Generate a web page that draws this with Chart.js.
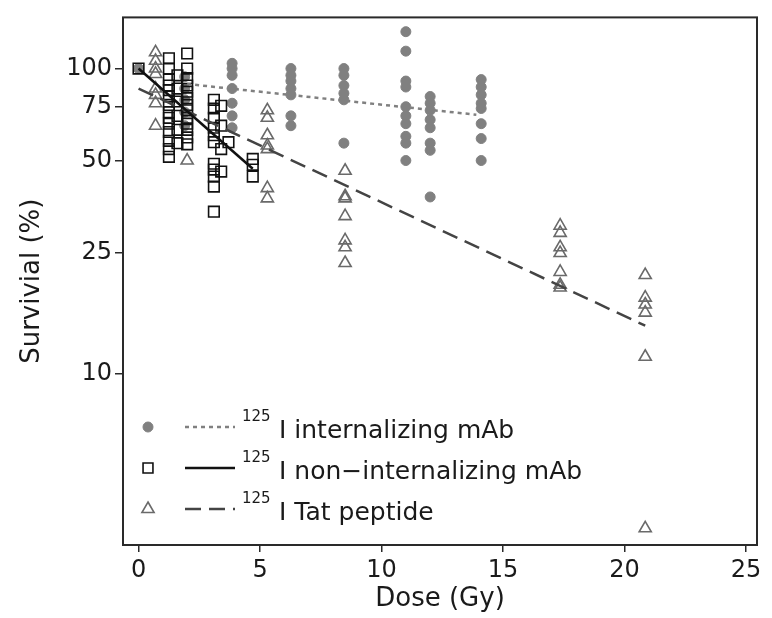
<!DOCTYPE html>
<html>
<head>
<meta charset="utf-8">
<script src="https://cdn.jsdelivr.net/npm/chart.js@4.4.1/dist/chart.umd.min.js"></script>
<style>
  html, body { margin: 0; padding: 0; background: #fff; }
</style>
</head>
<body>
<canvas id="chart" width="772" height="618"></canvas>
<script>
// 125I internalizing mAb (grey dots)
const intDose = [0,
  1.9, 1.9, 1.9, 1.9, 1.9,
  3.85, 3.85, 3.85, 3.85, 3.85, 3.85, 3.85,
  6.27, 6.27, 6.27, 6.27, 6.27, 6.27, 6.27,
  8.45, 8.45, 8.45, 8.45, 8.45, 8.45,
  11, 11, 11, 11, 11, 11, 11, 11, 11, 11,
  12, 12, 12, 12, 12, 12, 12, 12,
  14.1, 14.1, 14.1, 14.1, 14.1, 14.1, 14.1, 14.1];
const intSurv = [100,
  94, 86, 79, 72, 65,
  104, 100, 95, 86, 77, 70, 64,
  100, 95, 91, 86, 82, 70, 65,
  100, 95, 88, 83, 79, 57,
  132, 114, 91, 87, 75, 70, 66, 60, 57, 50,
  81, 77, 73, 68, 64, 57, 54, 38,
  92, 87, 82, 77, 74, 66, 59, 50];

// 125I non-internalizing mAb (open squares)
const nonDose = [0,
  1.25, 1.25, 1.25, 1.25, 1.25, 1.25, 1.25, 1.25, 1.25, 1.25, 1.25, 1.25, 1.25, 1.25,
  1.6, 1.6, 1.6, 1.6, 1.6, 1.6,
  2.0, 2.0, 2.0, 2.0, 2.0, 2.0, 2.0, 2.0, 2.0, 2.0, 2.0, 2.0, 2.0,
  3.1, 3.1, 3.1, 3.1, 3.1, 3.1, 3.1, 3.1, 3.1, 3.1, 3.1,
  3.4, 3.4, 3.4, 3.4,
  3.7,
  4.7, 4.7, 4.7];
const nonSurv = [100,
  108, 100, 92, 88, 85, 81, 76, 72, 69, 66, 62, 58, 54.5, 51.4,
  95, 86, 78, 70, 63, 57,
  112, 100, 93, 88, 84, 80, 76, 73, 69, 66, 63, 59.5, 56.5,
  79, 74, 69, 64, 60.5, 57.4, 48.8, 46.7, 44.3, 41.1, 34,
  75.5, 65, 54.5, 46,
  57.4,
  50.6, 48.4, 44.3];

// 125I Tat peptide (open triangles)
const tatDose = [0.7, 0.7, 0.7, 0.7, 0.7, 0.7, 0.7, 0.7,
  2.0,
  5.3, 5.3, 5.3, 5.3, 5.3, 5.3, 5.3,
  8.5, 8.5, 8.5, 8.5, 8.5, 8.5, 8.5,
  17.35, 17.35, 17.35, 17.35, 17.35, 17.35, 17.35,
  20.85, 20.85, 20.85, 20.85, 20.85, 20.85];
const tatSurv = [113, 106, 100, 96, 86, 82, 77, 65,
  50,
  73, 69, 60.5, 56, 54.5, 40.6, 37.6,
  46.3, 38.2, 37.6, 32.9, 27.4, 26.0, 23.1,
  30.6, 29.0, 26.0, 24.9, 21.6, 19.6, 19.2,
  21.1, 17.8, 16.9, 15.9, 11.4, 3.13];

// fitted lines (end points)
const intFitDose = [2.0, 13.9];
const intFitSurv = [89, 70.6];
const nonFitDose = [0, 4.7];
const nonFitSurv = [100, 47];
const tatFitDose = [0, 20.85];
const tatFitSurv = [86, 14.4];

const xTicks = [0, 5, 10, 15, 20, 25];
const yTicks = [10, 25, 50, 75, 100];

const legendLabels = ['I internalizing mAb', 'I non\u2212internalizing mAb', 'I Tat peptide'];
const isotope = '125';

const pts = (xs, ys) => xs.map((x, i) => ({ x: x, y: ys[i] }));

const GREY = '#808080';
const TRI = '#6a6a6a';
const INK = '#1a1a1a';

Chart.defaults.font.family = '"DejaVu Sans", sans-serif';
Chart.defaults.color = INK;

const styles = [
  { pointStyle: 'circle', radius: 5, fill: GREY, stroke: GREY, bw: 1,
    line: GREY, dash: [4, 4], lw: 2.5 },
  { pointStyle: 'rect', radius: 7.5, fill: 'rgba(0,0,0,0)', stroke: '#111', bw: 1.6,
    line: '#111', dash: [], lw: 2.5 },
  { pointStyle: 'triangle', radius: 7, fill: 'rgba(0,0,0,0)', stroke: TRI, bw: 1.6,
    line: '#444', dash: [16, 8], lw: 2.5 }
];

const framePlugin = {
  id: 'frame',
  afterDraw(chart) {
    const { ctx, chartArea: a } = chart;
    ctx.save();
    ctx.strokeStyle = '#2a2a2a';
    ctx.lineWidth = 2;
    ctx.strokeRect(a.left, a.top, a.right - a.left, a.bottom - a.top);

    // legend in lower left corner
    const rows = [438, 479, 520];
    rows.forEach((base, i) => {
      const s = styles[i];
      const my = base - 11;
      ctx.fillStyle = s.fill;
      ctx.strokeStyle = s.stroke;
      ctx.lineWidth = s.bw;
      Chart.helpers.drawPoint(ctx, { pointStyle: s.pointStyle, radius: s.pointStyle === 'rect' ? 7 : s.radius, rotation: 0, borderWidth: s.bw }, 148, my);
      ctx.beginPath();
      ctx.strokeStyle = s.line;
      ctx.lineWidth = s.lw;
      ctx.setLineDash(s.dash);
      ctx.moveTo(185, my);
      ctx.lineTo(235, my);
      ctx.stroke();
      ctx.setLineDash([]);
      ctx.fillStyle = INK;
      ctx.textBaseline = 'alphabetic';
      ctx.textAlign = 'left';
      ctx.font = '15px "DejaVu Sans"';
      ctx.fillText(isotope, 242, base - 17);
      ctx.font = '25px "DejaVu Sans"';
      ctx.fillText(legendLabels[i], 279, base);
    });
    ctx.restore();
  }
};

const scatterSet = (data, s) => ({
  data: data,
  showLine: false,
  pointStyle: s.pointStyle,
  pointRadius: s.radius,
  pointBackgroundColor: s.fill,
  pointBorderColor: s.stroke,
  pointBorderWidth: s.bw
});

const lineSet = (data, s) => ({
  data: data,
  showLine: true,
  borderColor: s.line,
  borderWidth: s.lw,
  borderDash: s.dash,
  pointRadius: 0
});

new Chart(document.getElementById('chart'), {
  type: 'scatter',
  data: {
    datasets: [
      lineSet(pts(intFitDose, intFitSurv), styles[0]),
      lineSet(pts(nonFitDose, nonFitSurv), styles[1]),
      lineSet(pts(tatFitDose, tatFitSurv), styles[2]),
      scatterSet(pts(nonDose, nonSurv), styles[1]),
      scatterSet(pts(tatDose, tatSurv), styles[2]),
      scatterSet(pts(intDose, intSurv), styles[0])
    ]
  },
  options: {
    responsive: false,
    animation: false,
    devicePixelRatio: 1,
    layout: { padding: { left: 0, right: 15, top: 8, bottom: 0 } },
    plugins: { legend: { display: false }, tooltip: { enabled: false } },
    events: [],
    scales: {
      x: {
        type: 'linear',
        min: -0.64,
        max: 25.45,
        afterBuildTicks: (scale) => { scale.ticks = xTicks.map(v => ({ value: v })); },
        afterFit: (scale) => { scale.height = 73; },
        border: { display: false },
        grid: { drawOnChartArea: false, drawTicks: true, tickLength: 7, color: '#2a2a2a', lineWidth: 1.5 },
        ticks: { font: { size: 24 }, padding: 4, color: INK, maxRotation: 0 },
        title: { display: true, text: 'Dose (Gy)', font: { size: 26 }, color: INK, padding: { top: 0, bottom: 3 } }
      },
      y: {
        type: 'logarithmic',
        min: 2.76,
        max: 147,
        afterBuildTicks: (scale) => { scale.ticks = yTicks.map(v => ({ value: v })); },
        afterFit: (scale) => { scale.width = 123; },
        border: { display: false },
        grid: { drawOnChartArea: false, drawTicks: true, tickLength: 8, color: '#2a2a2a', lineWidth: 1.5 },
        ticks: { font: { size: 24 }, padding: 3, color: INK, callback: (v) => String(v) },
        title: { display: true, text: 'Survivial (%)', font: { size: 26 }, color: INK, padding: { top: 17, bottom: 0 } }
      }
    }
  },
  plugins: [framePlugin]
});
</script>
</body>
</html>
